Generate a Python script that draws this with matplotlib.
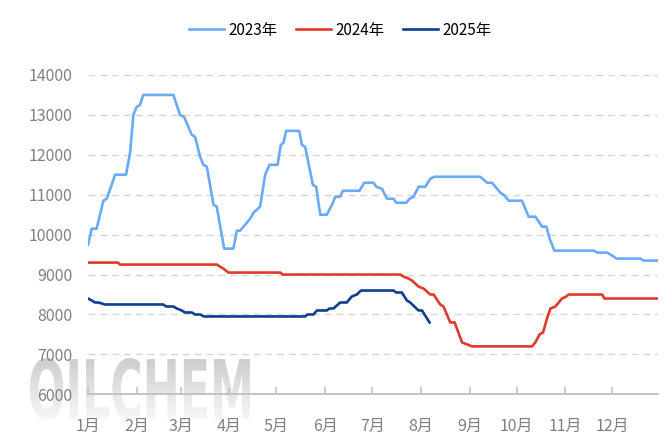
import numpy as np
import matplotlib.pyplot as plt
from matplotlib.textpath import TextPath
from matplotlib.patches import PathPatch
from matplotlib.font_manager import FontProperties
from matplotlib.transforms import Affine2D

plt.rcParams['font.family'] = ['Noto Sans CJK SC', 'DejaVu Sans']

# day of year (0 = 1 Jan) and price
days_2023 = [0, 2.4, 5.5, 9.8, 11.9, 15.1, 17.2, 24.2, 26.8, 28.9, 31.0, 33.1, 35.2, 54.4,
             58.6, 61.2, 66.1, 68.2, 71.4, 73.5, 75.7, 79.9, 82.0, 86.7, 92.6, 94.8, 96.9,
             100.1, 103.3, 105.4, 109.6, 112.8, 115.6, 120.7, 122.8, 124.5, 126.2, 134.5,
             136.2, 138.3, 143.2, 145.3, 147.9, 152.1, 156.0, 157.4, 160.6, 162.3, 172.9,
             175.9, 181.8, 183.6, 187.2, 190.4, 194.6, 196.3, 202.7, 204.8, 207.3, 210.5,
             214.8, 218.0, 220.5, 249.8, 254.1, 257.3, 262.6, 264.7, 267.9, 276.4, 280.6,
             284.9, 289.2, 291.9, 294.0, 297.0, 322.1, 324.2, 330.6, 334.8, 336.6, 351.8,
             353.9, 362.5]
price_2023 = [9750, 10150, 10150, 10850, 10900, 11250, 11500, 11500, 12050, 13000, 13200,
              13250, 13500, 13500, 13000, 12950, 12500, 12450, 11950, 11750, 11700, 10750,
              10700, 9650, 9650, 10100, 10100, 10250, 10400, 10550, 10700, 11500, 11750,
              11750, 12250, 12300, 12600, 12600, 12250, 12200, 11250, 11200, 10500, 10500,
              10800, 10950, 10950, 11100, 11100, 11300, 11300, 11200, 11150, 10900, 10900,
              10800, 10800, 10900, 10950, 11200, 11200, 11400, 11450, 11450, 11300, 11300,
              11050, 11000, 10850, 10850, 10450, 10450, 10200, 10200, 9900, 9600, 9600,
              9550, 9550, 9450, 9400, 9400, 9350, 9350]

days_2024 = [0, 19.1, 20.4, 82.0, 84.1, 86.2, 89.4, 122.4, 124.1, 198.9, 201.0, 204.1,
             206.3, 210.5, 213.7, 218.0, 220.1, 224.3, 226.4, 230.7, 233.5, 238.2, 241.4,
             244.6, 282.8, 284.9, 287.6, 289.8, 292.3, 294.5, 297.6, 301.9, 304.6, 306.1,
             327.4, 328.9, 363.5]
price_2024 = [9300, 9300, 9250, 9250, 9200, 9150, 9050, 9050, 9000, 9000, 8950, 8900,
              8850, 8700, 8650, 8500, 8500, 8250, 8200, 7800, 7800, 7300, 7250, 7200,
              7200, 7300, 7500, 7550, 7900, 8150, 8200, 8400, 8450, 8500, 8500, 8400, 8400]

days_2025 = [0, 2.4, 4.5, 6.6, 10.8, 11.9, 48.0, 49.7, 54.4, 56.5, 59.7, 61.8, 66.1,
             68.2, 71.4, 73.9, 138.3, 139.8, 143.6, 145.8, 152.1, 153.8, 156.3, 160.6,
             164.8, 168.0, 171.2, 173.8, 194.6, 196.3, 199.9, 203.1, 205.2, 210.5, 212.7,
             217.5]
price_2025 = [8400, 8350, 8300, 8300, 8250, 8250, 8250, 8200, 8200, 8150, 8100, 8050,
              8050, 8000, 8000, 7950, 7950, 8000, 8000, 8100, 8100, 8150, 8150, 8300,
              8300, 8450, 8500, 8600, 8600, 8550, 8550, 8350, 8300, 8100, 8100, 7800]

month_days = [0, 31, 59, 90, 120, 151, 181, 212, 243, 273, 304, 334]
month_labels = ['1月', '2月', '3月', '4月', '5月', '6月', '7月', '8月', '9月', '10月', '11月', '12月']
y_ticks = [6000, 7000, 8000, 9000, 10000, 11000, 12000, 13000, 14000]

fig = plt.figure(figsize=(6.65, 4.43), dpi=100)

# watermark: grey gradient clipped to the text outline
bg = fig.add_axes([0, 0, 1, 1], zorder=-1)
bg.set_xlim(0, 665)
bg.set_ylim(0, 443)
bg.axis('off')
tp = TextPath((0, 0), 'OILCHEM', size=1, prop=FontProperties(family='DejaVu Sans', weight='bold'))
ext = tp.get_extents()
x0, x1, y0, y1 = 30, 250, 443 - 420, 443 - 358
tr = Affine2D().translate(-ext.x0, -ext.y0).scale((x1 - x0) / ext.width, (y1 - y0) / ext.height).translate(x0, y0)
wm = PathPatch(tp, transform=tr + bg.transData, facecolor='none', edgecolor='none')
bg.add_patch(wm)
grad = np.linspace(0.80, 0.97, 64).reshape(-1, 1)
im = bg.imshow(grad, extent=[x0, x1, y0, y1], origin='upper', cmap='gray', vmin=0, vmax=1,
               aspect='auto', interpolation='bilinear')
im.set_clip_path(wm)

ax = fig.add_axes([88 / 665, 1 - 394.3 / 443, (658 - 88) / 665, (394.3 - 75) / 443])
ax.patch.set_alpha(0)

ax.plot(days_2023, price_2023, color='#6aaaf7', lw=1.9, label='2023年', zorder=3)
ax.plot(days_2024, price_2024, color='#e03a2c', lw=1.9, label='2024年', zorder=3)
ax.plot(days_2025, price_2025, color='#0d3f8f', lw=1.9, label='2025年', zorder=4)

ax.set_xlim(0, 363)
ax.set_ylim(6000, 14000)
ax.set_yticks(y_ticks)
ax.set_xticks(month_days)
ax.set_xticklabels(month_labels)

for v in y_ticks[1:]:
    ax.axhline(v, color='#d6d6d6', lw=1.0, dashes=(5, 3.5), zorder=1)

for s in ['top', 'right', 'left']:
    ax.spines[s].set_visible(False)
ax.spines['bottom'].set_color('#bfbfbf')
ax.spines['bottom'].set_linewidth(1.3)

ax.tick_params(axis='x', direction='in', length=5, width=1.1, color='#bfbfbf',
               labelsize=11.5, labelcolor='#808080', pad=17)
ax.tick_params(axis='y', length=0, labelsize=11.5, labelcolor='#808080', pad=11)

fig.legend(loc='center', bbox_to_anchor=(340 / 665, 1 - 30 / 443), ncol=3, frameon=False,
           fontsize=11, handlelength=2.3, handletextpad=0.3, columnspacing=1.2)

plt.savefig('out.png', dpi=100)
